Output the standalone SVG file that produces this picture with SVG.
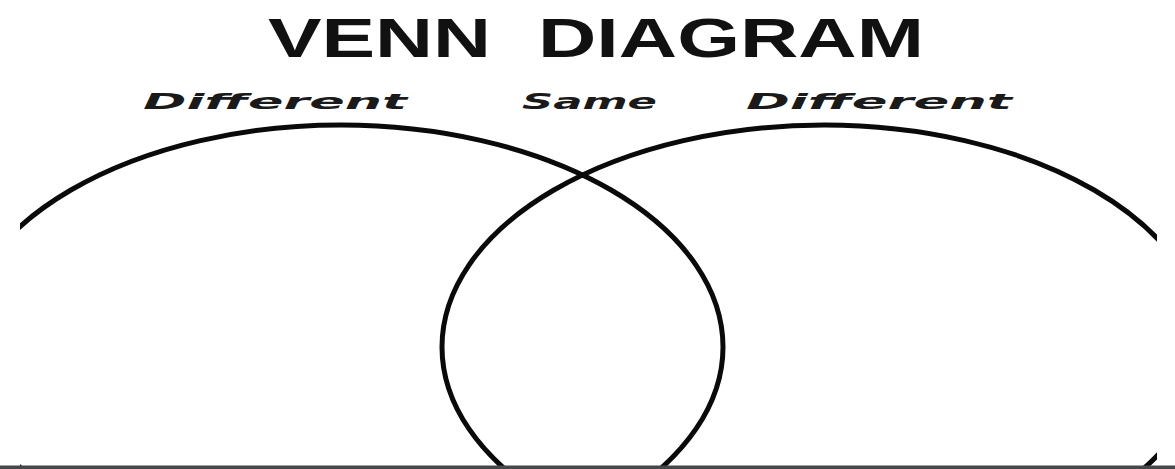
<svg xmlns="http://www.w3.org/2000/svg" width="1175" height="469" viewBox="0 0 1175 469">
  <style>
    .title { font-family: "Liberation Sans", "DejaVu Sans", sans-serif; font-weight: bold; fill: #111; }
    .label { font-family: "DejaVu Sans", "Liberation Sans", sans-serif; font-weight: bold; font-style: italic; fill: #1a1a1a; }
    .set { fill: none; stroke: #0a0a0a; stroke-width: 5; }
  </style>
  <defs>
    <clipPath id="frame">
      <rect x="20" y="0" width="1137" height="466"/>
    </clipPath>
  </defs>
  <rect x="0" y="0" width="1175" height="469" fill="#ffffff"/>
  <g id="title">
    <text class="title" x="268" y="57" font-size="56" textLength="223" lengthAdjust="spacingAndGlyphs">VENN</text>
    <text class="title" x="538" y="57" font-size="56" textLength="386" lengthAdjust="spacingAndGlyphs">DIAGRAM</text>
  </g>
  <g id="labels">
    <text class="label" x="143" y="109" font-size="22" textLength="264" lengthAdjust="spacingAndGlyphs">Different</text>
    <text class="label" x="522" y="109" font-size="22" textLength="135" lengthAdjust="spacingAndGlyphs">Same</text>
    <text class="label" x="746" y="109" font-size="22" textLength="266" lengthAdjust="spacingAndGlyphs">Different</text>
  </g>
  <g id="set-left" clip-path="url(#frame)">
    <ellipse class="set" cx="341" cy="347" rx="382" ry="222"/>
  </g>
  <g id="set-right" clip-path="url(#frame)">
    <ellipse class="set" cx="824" cy="347" rx="382" ry="222"/>
  </g>
  <rect x="0" y="465.5" width="1175" height="3.5" fill="#45484b"/>
</svg>
